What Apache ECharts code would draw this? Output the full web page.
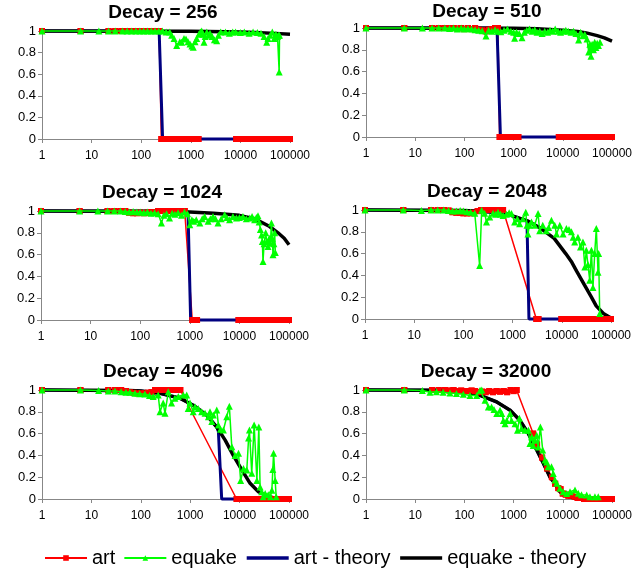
<!DOCTYPE html>
<html>
<head>
<meta charset="utf-8">
<script src="https://cdn.jsdelivr.net/npm/echarts@6/dist/echarts.min.js"></script>
<style>
  html, body { margin: 0; padding: 0; background: #fff; }
  #chart { width: 644px; height: 572px; }
</style>
</head>
<body>
<div id="chart"></div>
<script>
// Decay settings, one panel each
const decays = [256, 510, 1024, 2048, 4096, 32000];

// ---- Decay = 256 ----
const art256 = [[1,1],[6,1],[22,1],[30,1],[40,1],[50,1],[60,1],[72,1],[86,1],[100,1],[118,1],[140,1],[165,1],[195,1],[230,1],
  [255,0],[300,0],[350,0],[410,0],[480,0],[560,0],[650,0],[760,0],[890,0],[1040,0],[1220,0],[1430,0],
  [8200,0],[9500,0],[11000,0],[12800,0],[14800,0],[17200,0],[20000,0],[23200,0],[27000,0],[31300,0],[36400,0],[42200,0],[49000,0],[57000,0],[66000,0],[77000,0],[89000,0],[100000,0]];
const equake256 = [[1,1],[6,1],[14,1],[22,1],[30,1],[42,1],[52,1],[64,1],[78,1],[94,1],[112,1],[134,1],[160,1],[190,1],[226,1],[268,1],[318,0.99],[376,0.99],
  [412,0.96],[460,0.93],[520,0.865],[600,0.9],[656,0.895],[730,0.93],[800,0.926],[880,0.9],[963,0.88],[1050,0.86],[1122,0.85],[1220,0.9],[1315,0.93],[1450,0.97],[1560,0.99],[1660,1.0],[1760,0.97],[1846,0.895],[1950,0.95],[2100,0.99],[2300,0.96],[2440,0.98],[2700,0.95],[3000,0.92],[3330,0.91],[3600,0.96],[4000,0.99],
  [5000,0.99],[6000,0.98],[7000,0.99],[8000,0.99],[10000,0.985],[12000,0.99],[15000,0.98],[18000,0.99],[22000,0.985],[26000,0.98],[30000,0.95],[33900,0.895],[36000,0.93],[40000,0.96],[44000,0.99],[48000,0.93],[52000,0.97],[56000,0.95],[59000,0.96],[60500,0.62],[61500,0.96]];
const artTheory256 = [[1,1],[230,1],[270,0],[100000,0]];
const equakeTheory256 = [[1,1],[1000,0.998],[5000,0.993],[10000,0.99],[20000,0.985],[50000,0.978],[100000,0.97]];

// ---- Decay = 510 ----
const art510 = [[1,1],[6,1],[22,1],[30,1],[40,1],[50,1],[60,1],[72,0.995],[86,1],[100,0.99],[118,1],[140,0.99],[165,1],[195,0.985],[230,0.98],[270,0.97],[310,0.985],[360,0.99],[420,1],[480,1],
  [520,0],[600,0],[700,0],[820,0],[960,0],[1120,0],[1250,0],
  [8300,0],[9500,0],[11000,0],[12800,0],[14800,0],[17200,0],[20000,0],[23200,0],[27000,0],[31300,0],[36400,0],[42200,0],[49000,0],[57000,0],[66000,0],[77000,0],[89000,0],[100000,0]];
const equake510 = [[1,1],[6,1],[14,1],[22,1],[30,1],[40,1],[50,0.995],[60,1],[72,0.99],[86,1],[100,0.99],[118,0.995],[140,0.99],[165,0.985],[195,0.98],[230,0.975],[275,0.926],[310,0.98],[360,0.97],[420,0.985],[480,0.97],
  [550,0.965],[640,0.98],[750,0.99],[880,0.97],[1000,0.96],[1050,0.905],[1150,0.96],[1300,0.95],[1480,0.91],[1650,0.96],[1850,0.98],[2100,0.99],[2400,0.97],[2700,0.985],[3000,0.96],[3400,0.97],[3800,0.95],[4300,0.97],[4900,0.96],[5500,0.98],[6200,0.97],[7000,0.99],[8000,0.97],[9000,0.96],
  [10200,0.97],[11500,0.98],[13000,0.97],[14700,0.96],[16500,0.97],[18500,0.95],[21000,0.89],[23000,0.96],[25500,0.93],[28000,0.94],[31000,0.9],[33600,0.78],[35500,0.85],[37400,0.74],[39500,0.85],[42000,0.8],[44500,0.87],[47000,0.82],[50000,0.86],[53000,0.84],[57000,0.87]];
const artTheory510 = [[1,1],[460,1],[540,0],[100000,0]];
const equakeTheory510 = [[1,1],[1000,0.998],[3000,0.993],[10000,0.98],[20000,0.968],[30000,0.955],[50000,0.93],[70000,0.91],[100000,0.88]];

// ---- Decay = 1024 ----
const art1024 = [[1,1],[6,1],[22,1],[30,1],[40,1],[50,1],[60,0.985],[72,0.98],[86,0.98],[100,0.985],[118,0.98],[140,0.985],[165,0.99],[195,0.99],[230,1],[270,1],[320,1],[380,1],[450,1],[530,1],[620,1],[700,1],[790,1],
  [1120,0],[1250,0],[1400,0],
  [9600,0],[11000,0],[12800,0],[14800,0],[17200,0],[20000,0],[23200,0],[27000,0],[31300,0],[36400,0],[42200,0],[49000,0],[57000,0],[66000,0],[77000,0],[89000,0],[100000,0]];
const equake1024 = [[1,1],[6,1],[14,1],[22,1],[30,1],[40,1],[50,0.995],[60,0.99],[72,0.995],[86,0.99],[100,0.99],[118,0.985],[140,0.99],[165,0.98],[195,0.985],[230,0.975],[268,0.89],[300,0.96],[340,0.975],[390,0.935],[440,0.98],[500,0.97],[580,0.985],[680,0.96],[780,0.99],[900,0.975],
  [1000,0.874],[1100,0.92],[1200,0.905],[1350,0.92],[1590,0.89],[1780,0.93],[1990,0.95],[2340,0.905],[2600,0.93],[2940,0.95],[3300,0.93],[3700,0.89],[4300,0.93],[5040,0.966],[5600,0.94],[6340,0.92],[7400,0.95],[8720,0.935],
  [10000,0.94],[11800,0.95],[13800,0.93],[16200,0.935],[18000,0.95],[20300,0.92],[22000,0.94],[23700,0.957],[25000,0.9],[26500,0.83],[28000,0.78],[29000,0.72],[29900,0.536],[31500,0.7],[33900,0.8],[35500,0.72],[37700,0.674],[40000,0.75],[42200,0.705],[44200,0.89],[46000,0.75],[47600,0.598],[49500,0.7],[51400,0.8],[53000,0.62]];
const artTheory1024 = [[1,1],[500,0.995],[920,0.99],[1040,0],[100000,0]];
const equakeTheory1024 = [[1,1],[300,0.997],[1000,0.99],[3000,0.98],[10000,0.96],[20000,0.93],[40000,0.86],[60000,0.8],[80000,0.75],[100000,0.69]];

// ---- Decay = 2048 ----
const art2048 = [[1,1],[6,1],[22,1],[30,1],[40,1],[50,0.995],[60,0.98],[72,0.975],[86,0.975],[100,0.97],[118,0.97],[140,0.97],[165,0.975],[195,0.99],[230,1],[270,1],[320,1],[380,1],[450,1],[530,1],[640,1],
  [3040,0],[3200,0],[3350,0],
  [9800,0],[11300,0],[12800,0],[14800,0],[17200,0],[20000,0],[23200,0],[27000,0],[31300,0],[36400,0],[42200,0],[49000,0],[57000,0],[66000,0],[77000,0],[89000,0],[100000,0]];
const equake2048 = [[1,1],[6,1],[14,0.995],[22,1],[30,1],[40,1],[50,0.995],[60,0.99],[72,0.99],[86,0.995],[100,0.99],[118,0.985],[140,0.98],[170,0.97],[214,0.49],[235,0.997],[270,0.97],[295,0.89],[342,0.935],[400,0.97],[450,0.96],[505,0.98],[570,0.96],[640,0.95],[750,0.96],[850,0.975],[950,0.967],
  [1100,0.89],[1250,0.92],[1390,0.875],[1620,0.92],[1850,0.98],[1960,0.86],[2050,0.78],[2200,0.86],[2420,0.89],[2810,0.86],[3290,0.967],[3550,0.81],[4100,0.86],[4850,0.81],[5400,0.84],[6150,0.905],[7200,0.86],[7800,0.78],[9100,0.86],
  [10600,0.78],[12400,0.83],[14000,0.82],[15700,0.8],[17000,0.75],[18300,0.706],[21300,0.75],[24000,0.66],[26900,0.706],[29400,0.477],[31500,0.63],[34000,0.5],[37000,0.355],[40000,0.63],[43000,0.29],[46600,0.6],[50300,0.83],[54500,0.43],[56000,0.6],[59000,0.05]];
const artTheory2048 = [[1,1],[100,0.995],[300,0.985],[750,0.965],[1960,0.9],[2150,0],[100000,0]];
const equakeTheory2048 = [[1,1],[100,0.995],[300,0.985],[750,0.965],[2000,0.9],[3500,0.84],[7000,0.74],[12000,0.6],[16000,0.52],[20000,0.44],[30000,0.3],[40000,0.2],[50000,0.12],[70000,0.05],[100000,0.01]];

// ---- Decay = 4096 ----
const art4096 = [[1,1],[6,1],[22,1],[30,1],[40,1],[50,0.99],[60,0.98],[72,0.975],[86,0.97],[100,0.97],[118,0.97],[140,0.975],[165,0.98],[195,1],[230,1],[270,1],[320,1],[380,1],[450,1],[530,1],[630,1],
  [8700,0],[10000,0],[11500,0],[13200,0],[15200,0],[17500,0],[20000,0],[23200,0],[27000,0],[31300,0],[36400,0],[42200,0],[49000,0],[57000,0],[66000,0],[77000,0],[89000,0],[100000,0]];
const equake4096 = [[1,1],[6,1],[14,0.995],[22,0.99],[30,0.99],[40,0.985],[50,0.98],[60,0.98],[76,0.97],[95,0.965],[121,0.963],[150,0.95],[178,0.94],[225,0.954],[245,0.8],[284,0.88],[309,0.786],[360,0.984],[420,0.88],[490,0.924],[575,0.94],[725,0.954],[850,0.954],[910,0.83],[990,0.88],
  [1150,0.8],[1250,0.847],[1450,0.83],[1710,0.8],[2000,0.786],[2340,0.755],[2520,0.8],[2740,0.71],[2940,0.77],[3450,0.817],[3720,0.68],[4100,0.64],[4700,0.633],[5500,0.755],[6200,0.85],[6950,0.48],[8100,0.4],[9500,0.42],
  [10500,0.17],[12000,0.28],[14000,0.266],[15200,0.56],[15800,0.633],[17600,0.236],[19700,0.68],[22400,0.17],[24500,0.66],[26000,0.11],[28000,0.067],[30000,0.02],[33000,0.05],[38000,0.04],[42000,0.02],[45000,0.08],[47000,0.27],[48700,0.42],[52500,0.17],[55000,0.02]];
const artTheory4096 = [[1,1],[100,0.99],[244,0.97],[617,0.925],[1150,0.86],[2150,0.77],[3450,0.66],[3720,0.62],[4340,0],[100000,0]];
const equakeTheory4096 = [[1,1],[60,0.995],[100,0.99],[244,0.97],[617,0.925],[1150,0.86],[2150,0.77],[3450,0.66],[5100,0.54],[7450,0.4],[11000,0.27],[16300,0.144],[24000,0.067],[35600,0.027],[50000,0.01],[100000,0]];

// ---- Decay = 32000 ----
const art32000 = [[1,1],[6,1],[22,1],[30,1],[40,1],[50,0.995],[60,1],[72,0.99],[86,0.995],[100,0.99],[118,0.99],[140,0.995],[165,0.99],[195,0.98],[230,0.985],[270,0.98],[320,0.99],[380,0.98],[450,0.99],[530,0.985],[630,0.99],[740,0.98],[870,1],[1000,0.99],[1150,1],
  [2500,0.6],[3000,0.5],[3800,0.38],[4800,0.28],[6000,0.2],[7000,0.14],[8100,0.1],[9000,0.09],[10000,0.05],[11500,0.04],[13000,0.03],[15000,0.03],[17500,0.02],[20000,0.01],[23000,0.01],
  [27000,0],[31000,0],[36000,0],[42000,0],[49000,0],[57000,0],[66000,0],[77000,0],[89000,0],[100000,0]];
const equake32000 = [[1,1],[6,1],[14,0.995],[20,0.98],[27,0.985],[37,0.98],[51,0.973],[69,0.967],[95,0.96],[130,0.95],[178,0.95],[208,0.997],[225,1.0],[263,0.906],[307,0.845],[357,0.845],[400,0.82],[455,0.784],[530,0.815],[575,0.784],[620,0.72],[670,0.69],[725,0.72],[850,0.784],[910,0.72],
  [1070,0.69],[1200,0.63],[1310,0.74],[1450,0.647],[1700,0.63],[2000,0.63],[2150,0.51],[2340,0.57],[2500,0.49],[2700,0.54],[2950,0.586],[3170,0.478],[3500,0.66],[3900,0.45],[4350,0.357],[4700,0.34],[5040,0.296],[5900,0.296],[6400,0.235],[6950,0.174],[7550,0.144],[8750,0.098],
  [10200,0.067],[12000,0.05],[14000,0.067],[17700,0.082],[20600,0.052],[24000,0.04],[30600,0.037],[35600,0.02],[45000,0.02],[52500,0.02]];
const artTheory32000 = [[1,1],[30,0.998],[100,0.99],[208,0.95],[455,0.89],[850,0.815],[1350,0.72],[2000,0.6],[2950,0.45],[4000,0.33],[5500,0.2],[6950,0.14],[8300,0.08],[10000,0.04],[15000,0.015],[20000,0.005],[32000,0],[100000,0]];
const equakeTheory32000 = [[1,1],[30,0.998],[100,0.99],[208,0.95],[455,0.89],[850,0.815],[1350,0.72],[2000,0.6],[2950,0.45],[4000,0.33],[5500,0.2],[6950,0.14],[8300,0.08],[10000,0.04],[15000,0.015],[20000,0.005],[25000,0]];

// axis ranges
const yMin = 0, yMax = 1, yStep = 0.2;
const xMin = 1, xMax = 100000;

const seriesNames = ['art', 'equake', 'art - theory', 'equake - theory'];

const panels = [
  { decay: decays[0], art: art256,   equake: equake256,   artT: artTheory256,   eqT: equakeTheory256 },
  { decay: decays[1], art: art510,   equake: equake510,   artT: artTheory510,   eqT: equakeTheory510 },
  { decay: decays[2], art: art1024,  equake: equake1024,  artT: artTheory1024,  eqT: equakeTheory1024 },
  { decay: decays[3], art: art2048,  equake: equake2048,  artT: artTheory2048,  eqT: equakeTheory2048 },
  { decay: decays[4], art: art4096,  equake: equake4096,  artT: artTheory4096,  eqT: equakeTheory4096 },
  { decay: decays[5], art: art32000, equake: equake32000, artT: artTheory32000, eqT: equakeTheory32000 }
];

// plot rectangles of the 3x2 grid of panels, plus title anchor
const layout = [
  { left: 42,  top: 31,  width: 248, height: 108, tx: 163, ty: 13 },
  { left: 366, top: 28,  width: 246, height: 109, tx: 487, ty: 12 },
  { left: 41,  top: 211, width: 248, height: 109, tx: 162, ty: 193 },
  { left: 365, top: 210, width: 246, height: 109, tx: 487, ty: 192 },
  { left: 42,  top: 390, width: 247, height: 109, tx: 163, ty: 372 },
  { left: 366, top: 390, width: 246, height: 109, tx: 486, ty: 372 }
];

const FONT = 'Arial, "Liberation Sans", sans-serif';
const AXIS_GRAY = '#878787';
const RED = '#ff0000', GREEN = '#00ff00', NAVY = '#000080', BLACK = '#000000';

const grid = [], xAxis = [], yAxis = [], series = [], graphic = [];

panels.forEach((p, i) => {
  const L = layout[i];
  grid.push({ left: L.left, top: L.top, width: L.width, height: L.height, containLabel: false });
  xAxis.push({
    type: 'log', logBase: 10, gridIndex: i, min: xMin, max: xMax,
    axisLine: { show: true, lineStyle: { color: AXIS_GRAY, width: 1 } },
    axisTick: { show: true, length: 4, lineStyle: { color: AXIS_GRAY } },
    minorTick: { show: false },
    splitLine: { show: false },
    axisLabel: {
      color: '#000', fontFamily: FONT, fontSize: 12, margin: 11,
      formatter: v => String(Math.round(v))
    }
  });
  yAxis.push({
    type: 'value', gridIndex: i, min: yMin, max: yMax, interval: yStep,
    axisLine: { show: true, lineStyle: { color: AXIS_GRAY, width: 1 } },
    axisTick: { show: true, length: 4, lineStyle: { color: AXIS_GRAY } },
    splitLine: { show: false },
    axisLabel: {
      color: '#000', fontFamily: FONT, fontSize: 13, margin: 6,
      formatter: v => String(Math.round(v * 10) / 10)
    }
  });
  graphic.push({
    type: 'text', x: L.tx, y: L.ty, silent: true,
    style: {
      text: 'Decay = ' + p.decay, fill: '#000',
      font: 'bold 19px ' + FONT, textAlign: 'center', textVerticalAlign: 'middle'
    }
  });

  // the thin art line sits underneath the theory curves ...
  series.push({
    name: 'art', type: 'line', xAxisIndex: i, yAxisIndex: i, z: 1,
    data: p.art, symbol: 'rect', symbolSize: 6, showAllSymbol: true, clip: false,
    lineStyle: { color: RED, width: 1.5 }, itemStyle: { color: RED }
  });
  series.push({
    name: 'art - theory', type: 'line', xAxisIndex: i, yAxisIndex: i, z: 2,
    data: p.artT, symbol: 'none', clip: false,
    lineStyle: { color: NAVY, width: 3 }, itemStyle: { color: NAVY }
  });
  series.push({
    name: 'equake - theory', type: 'line', xAxisIndex: i, yAxisIndex: i, z: 3,
    data: p.eqT, symbol: 'none', clip: false,
    lineStyle: { color: BLACK, width: 3.5 }, itemStyle: { color: BLACK }
  });
  // ... while its square markers are drawn on top of them
  series.push({
    name: 'art', type: 'scatter', xAxisIndex: i, yAxisIndex: i, z: 4,
    data: p.art, symbol: 'rect', symbolSize: 6, clip: false,
    itemStyle: { color: RED, opacity: 1 }
  });
  series.push({
    name: 'equake', type: 'line', xAxisIndex: i, yAxisIndex: i, z: 5,
    data: p.equake, symbol: 'triangle', symbolSize: 7, showAllSymbol: true, clip: false,
    lineStyle: { color: GREEN, width: 1.5 }, itemStyle: { color: GREEN }
  });
});

const chart = echarts.init(document.getElementById('chart'), null, { renderer: 'canvas' });
chart.setOption({
  animation: false,
  backgroundColor: '#ffffff',
  grid, xAxis, yAxis, series, graphic,
  legend: {
    data: [
      { name: seriesNames[0] },
      { name: seriesNames[1] },
      { name: seriesNames[2], itemStyle: { opacity: 0 }, lineStyle: { width: 3.5 } },
      { name: seriesNames[3], itemStyle: { opacity: 0 }, lineStyle: { width: 3.5 } }
    ],
    left: 39, top: 543,
    itemWidth: 42, itemHeight: 7, itemGap: 8,
    textStyle: { color: '#000', fontFamily: FONT, fontSize: 20 },
    selectedMode: false
  }
});
</script>
</body>
</html>
